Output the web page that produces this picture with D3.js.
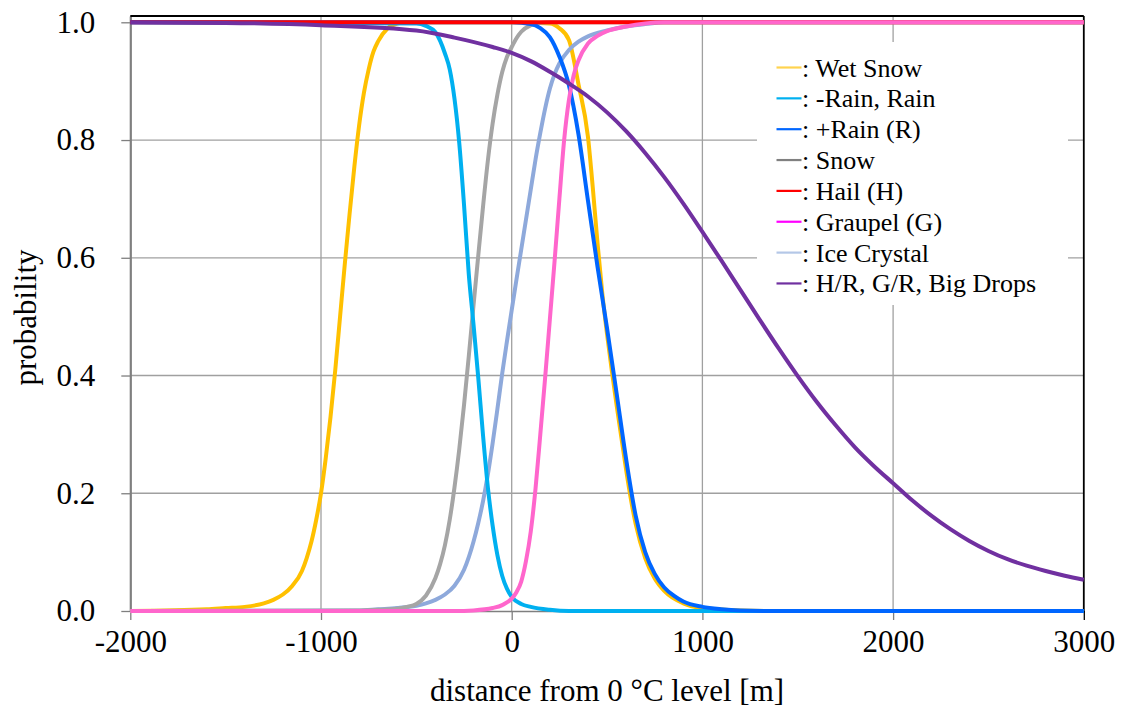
<!DOCTYPE html>
<html>
<head>
<meta charset="utf-8">
<script src="https://cdn.jsdelivr.net/npm/d3@7/dist/d3.min.js"></script>
<style>
  html, body { margin: 0; padding: 0; background: #fff; }
  svg { display: block; }
  text { font-family: "Liberation Serif", "Times New Roman", serif; fill: #000; }
</style>
</head>
<body>
<svg id="chart" width="1126" height="713"></svg>
<script>
// ---------------- data ----------------
const xTicks = [-2000, -1000, 0, 1000, 2000, 3000];
const yTicks = [0.0, 0.2, 0.4, 0.6, 0.8, 1.0];

const wetSnowX = [-2000,-1600,-1500,-1400,-1300,-1250,-1200,-1150,-1100,-1075,-1050,-1025,-1000,-975,-950,-925,-900,-875,-850,-825,-800,-775,-750,-725,-700,-650,-600,-550,0,200,250,300,350,400,425,450,475,500,525,550,575,600,625,650,700,750,800,900,1000,1200,1400,3000];
const wetSnowY = [0,0.003,0.005,0.007,0.013,0.019,0.028,0.043,0.068,0.09,0.118,0.155,0.2,0.26,0.33,0.41,0.5,0.59,0.675,0.755,0.825,0.88,0.92,0.95,0.968,0.99,0.998,1,1,0.998,0.99,0.97,0.895,0.805,0.72,0.625,0.54,0.47,0.408,0.35,0.295,0.24,0.19,0.148,0.09,0.055,0.034,0.013,0.005,0.001,0,0];

const minusRainX = [-2000,-500,-450,-400,-350,-325,-300,-275,-250,-225,-200,-175,-150,-125,-100,-75,-50,-25,0,50,100,200,300,3000];
const minusRainY = [1,0.998,0.994,0.983,0.947,0.92,0.87,0.795,0.69,0.572,0.486,0.395,0.297,0.21,0.145,0.095,0.06,0.038,0.024,0.012,0.007,0.002,0,0];

const plusRainX = [-2000,0,100,150,200,250,300,350,400,450,500,550,600,650,700,750,800,850,900,1000,1100,1200,1400,3000];
const plusRainY = [1,1,0.997,0.99,0.975,0.942,0.893,0.81,0.697,0.585,0.48,0.37,0.258,0.162,0.1,0.063,0.04,0.026,0.016,0.007,0.003,0.001,0,0];

const snowX = [-2000,-800,-700,-600,-550,-500,-450,-400,-375,-350,-325,-300,-275,-250,-225,-200,-175,-150,-125,-100,-75,-50,-25,0,25,50,100,150,200,3000];
const snowY = [0,0.001,0.002,0.004,0.007,0.012,0.026,0.056,0.08,0.112,0.155,0.21,0.275,0.35,0.433,0.52,0.605,0.688,0.765,0.828,0.877,0.915,0.941,0.958,0.973,0.984,0.995,0.999,1,1];

const hailX = [-2000, 3000];
const hailY = [1, 1];

const graupelX = [-2000,-300,-200,-100,-50,0,25,50,75,100,125,150,175,200,225,250,275,300,325,350,400,450,500,600,700,800,3000];
const graupelY = [0,0,0.001,0.005,0.01,0.021,0.032,0.05,0.085,0.135,0.208,0.3,0.395,0.495,0.595,0.7,0.8,0.868,0.91,0.935,0.964,0.977,0.985,0.993,0.998,1,1];

const iceX = [-2000,-800,-700,-600,-500,-450,-400,-350,-300,-250,-200,-175,-150,-125,-100,-75,-50,-25,0,25,50,75,100,125,150,175,200,225,250,300,350,400,500,600,700,800,3000];
const iceY = [0,0.001,0.003,0.005,0.009,0.013,0.019,0.028,0.043,0.07,0.118,0.15,0.187,0.232,0.285,0.343,0.403,0.458,0.511,0.563,0.614,0.665,0.716,0.767,0.812,0.853,0.887,0.912,0.93,0.953,0.967,0.976,0.986,0.993,0.997,1,1];

const bigDropsX = [-2000,-1500,-1000,-500,-300,-100,0,100,200,300,400,500,600,700,800,900,1000,1100,1200,1300,1400,1500,1600,1700,1800,1900,2000,2100,2200,2300,2400,2500,2600,2700,2800,2900,3000];
const bigDropsY = [1,0.999,0.995,0.986,0.974,0.958,0.948,0.934,0.916,0.896,0.874,0.847,0.815,0.778,0.737,0.692,0.644,0.595,0.545,0.495,0.446,0.399,0.355,0.315,0.278,0.246,0.217,0.188,0.162,0.139,0.119,0.102,0.088,0.077,0.068,0.06,0.053];

const legendLabels = [": Wet Snow", ": -Rain, Rain", ": +Rain (R)", ": Snow", ": Hail (H)", ": Graupel (G)", ": Ice Crystal", ": H/R, G/R, Big Drops"];
const legendColors = ["#FFD34F", "#00B0F0", "#0066FF", "#808080", "#FF0000", "#FF00FF", "#B4C7E7", "#7030A0"];

// series in drawing order (bottom to top)
const series = [
  { xs: wetSnowX,   ys: wetSnowY,   color: "#FFC000" },
  { xs: iceX,       ys: iceY,       color: "#8EA9DB" },
  { xs: snowX,      ys: snowY,      color: "#A5A5A5" },
  { xs: minusRainX, ys: minusRainY, color: "#00B0F0" },
  { xs: plusRainX,  ys: plusRainY,  color: "#0066FF" },
  { xs: hailX,      ys: hailY,      color: "#FF0000" },
  { xs: graupelX,   ys: graupelY,   color: "#FF66CC" },
  { xs: bigDropsX,  ys: bigDropsY,  color: "#7030A0" }
];

// ---------------- layout ----------------
const svg = d3.select("#chart");
const L = 130.3, R = 1083.8, T = 16, B = 611;
const x = d3.scaleLinear().domain([-2000, 3000]).range([L, R]);
const y = d3.scaleLinear().domain([0, 1.0107]).range([B, T]);

// gridlines
const grid = svg.append("g");
grid.selectAll("line.h").data(yTicks.filter(d => d > 0)).join("line")
  .attr("x1", L).attr("x2", R).attr("y1", d => y(d)).attr("y2", d => y(d))
  .attr("stroke", "#A0A0A0").attr("stroke-width", 1.3);
grid.selectAll("line.v").data(xTicks.filter(d => d > -2000 && d < 3000)).join("line")
  .attr("x1", d => x(d)).attr("x2", d => x(d)).attr("y1", T).attr("y2", B)
  .attr("stroke", "#A0A0A0").attr("stroke-width", 1.3);

// axes
const xAxis = svg.append("g").attr("transform", `translate(0,${B})`)
  .call(d3.axisBottom(x).tickValues(xTicks).tickSize(9).tickSizeOuter(0).tickPadding(10).tickFormat(d => String(d)));
xAxis.select(".domain").attr("stroke", "#7F7F7F").attr("stroke-width", 1.5);
xAxis.selectAll(".tick line").attr("stroke", "#7F7F7F").attr("stroke-width", 1.3);
xAxis.selectAll(".tick text").attr("font-size", 31).attr("font-family", "Liberation Serif").attr("fill", "#000");
xAxis.selectAll(".tick").filter(d => d === 3000).select("line").attr("stroke", "#000");

const yAxis = svg.append("g").attr("transform", `translate(${L},0)`)
  .call(d3.axisLeft(y).tickValues(yTicks).tickSize(9).tickSizeOuter(0).tickPadding(26).tickFormat(d3.format(".1f")));
yAxis.select(".domain").attr("stroke", "#7F7F7F").attr("stroke-width", 2.2);
yAxis.selectAll(".tick line").attr("stroke", "#7F7F7F").attr("stroke-width", 1.3);
yAxis.selectAll(".tick text").attr("font-size", 31).attr("font-family", "Liberation Serif").attr("fill", "#000");

// top & right border
svg.append("line").attr("x1", L).attr("x2", R).attr("y1", T).attr("y2", T).attr("stroke", "#000").attr("stroke-width", 1.8);
svg.append("line").attr("x1", R).attr("x2", R).attr("y1", T).attr("y2", B).attr("stroke", "#000").attr("stroke-width", 1.8);

// curves
const line = d3.line().x(d => x(d[0])).y(d => y(d[1])).curve(d3.curveMonotoneX);
const curves = svg.append("g");
series.forEach(s => {
  curves.append("path")
    .datum(s.xs.map((v, i) => [v, s.ys[i]]))
    .attr("d", line)
    .attr("fill", "none")
    .attr("stroke", s.color)
    .attr("stroke-width", 4)
    .attr("stroke-linejoin", "round");
});

// axis titles
svg.append("text").attr("x", (L + R) / 2).attr("y", 701)
  .attr("text-anchor", "middle").attr("font-size", 31).text("distance from 0 °C level [m]");
svg.append("text").attr("transform", `translate(36,${(T + B) / 2 + 4}) rotate(-90)`)
  .attr("text-anchor", "middle").attr("font-size", 31).text("probability");

// legend
const lg = svg.append("g");
lg.append("rect").attr("x", 757).attr("y", 42).attr("width", 311).attr("height", 263).attr("fill", "#fff");
legendLabels.forEach((lab, i) => {
  const cy = 67.5 + i * 30.85;
  lg.append("line").attr("x1", 776.5).attr("x2", 801.5).attr("y1", cy).attr("y2", cy)
    .attr("stroke", legendColors[i]).attr("stroke-width", 2.2);
  lg.append("text").attr("x", 802).attr("y", cy + 9).attr("font-size", 26).text(lab);
});
</script>
</body>
</html>
